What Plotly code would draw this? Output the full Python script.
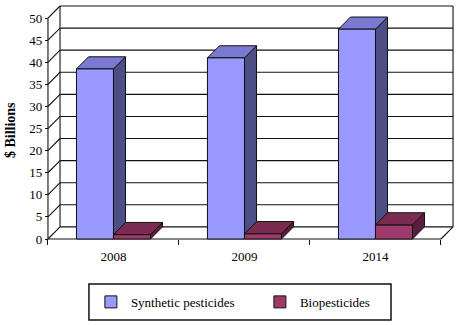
import plotly.graph_objects as go

# ---- data ----
years = ["2008", "2009", "2014"]
synthetic = [38.5, 41.0, 47.5]
biopesticides = [1.0, 1.2, 3.2]
series_names = ["Synthetic pesticides", "Biopesticides"]
y_ticks = [0, 5, 10, 15, 20, 25, 30, 35, 40, 45, 50]
y_title = "$ Billions"

# ---- geometry / style ----
DX = 0.092      # depth of the 3D box, in category units
DY = 2.75       # depth of the 3D box, in value units
W = 0.2825      # bar width (category units)
PADX = 0.015
PADY = 0.45
YMAX = y_ticks[-1]
NCAT = len(years)
FONT = "Liberation Serif"

front_cols = ["#9999FF", "#9E3A6C"]
top_cols = ["#7A7AD2", "#7B2A50"]
side_cols = ["#4E4E86", "#5A1E3C"]
edge = "#111111"

xs = list(range(NCAT))
fig = go.Figure()
values = [synthetic, biopesticides]
offsets = [-W, 0.0]
for k in range(2):
    fig.add_trace(go.Bar(
        x=xs, y=values[k], name=series_names[k], width=W, offset=offsets[k],
        marker=dict(color=front_cols[k], line=dict(color=edge, width=1)),
    ))

shapes = []


def line(x0, y0, x1, y1, layer="below", color=edge, width=1.1):
    shapes.append(dict(type="line", xref="x", yref="y", x0=x0, y0=y0, x1=x1, y1=y1,
                       layer=layer, line=dict(color=color, width=width)))


def poly(pts, fill, layer):
    path = "M " + " L ".join(f"{px},{py}" for px, py in pts) + " Z"
    shapes.append(dict(type="path", xref="x", yref="y", path=path, layer=layer,
                       fillcolor=fill, line=dict(color=edge, width=1)))


xl, xr = -0.5, NCAT - 0.5
# back wall gridlines and left-wall diagonals
for v in y_ticks:
    line(xl + DX, v + DY, xr + DX, v + DY)
    line(xl, v, xl + DX, v + DY)
# back wall verticals
line(xl + DX, DY, xl + DX, YMAX + DY)
line(xr + DX, DY, xr + DX, YMAX + DY)
# floor front edge, right diagonal, front value axis
line(xl, 0, xr, 0)
line(xr, 0, xr + DX, DY)
line(xl, 0, xl, YMAX)

# 3D faces of bars
for k in range(2):
    layer = "below" if k == 0 else "above"
    for i, v in enumerate(values[k]):
        x0 = i + offsets[k]
        x1 = x0 + W
        poly([(x1, 0), (x1, v), (x1 + DX, v + DY), (x1 + DX, DY)], side_cols[k], layer)
        poly([(x0, v), (x1, v), (x1 + DX, v + DY), (x0 + DX, v + DY)], top_cols[k], layer)

# legend frame
shapes.append(dict(type="rect", xref="paper", yref="paper", x0=0.105, x1=0.8435,
                   y0=-0.333, y1=-0.181, line=dict(color=edge, width=1.5)))

xrange_ = [xl - PADX, xr + DX + PADX]
yrange_ = [-PADY, YMAX + DY + PADY]

fig.update_layout(
    width=459, height=325,
    margin=dict(l=46, r=4, t=4, b=84, autoexpand=False),
    paper_bgcolor="white", plot_bgcolor="white",
    font=dict(family=FONT, size=13, color="black"),
    barmode="group",
    shapes=shapes,
    xaxis=dict(range=xrange_, tickvals=xs, ticktext=years, ticks="",
               showgrid=False, zeroline=False, showline=False,
               anchor="free", position=PADY / (yrange_[1] - yrange_[0]),
               ticklabelstandoff=8,
               minor=dict(tickvals=[xl + j for j in range(NCAT + 1)], ticks="outside",
                          ticklen=5, tickcolor=edge, tickwidth=1, showgrid=False),
               tickfont=dict(family=FONT, size=13, color="black")),
    yaxis=dict(range=yrange_, tickvals=y_ticks, ticks="outside", ticklen=3,
               tickcolor=edge, showgrid=False, zeroline=False, showline=False,
               anchor="free", position=PADX / (xrange_[1] - xrange_[0]),
               tickfont=dict(family=FONT, size=13, color="black")),
    legend=dict(orientation="h", xref="container", yref="container",
                x=0.198, xanchor="left", y=0.071, yanchor="middle",
                bgcolor="rgba(0,0,0,0)", borderwidth=0, entrywidth=124,
                font=dict(family=FONT, size=13, color="black")),
    annotations=[dict(text="<b>" + y_title + "</b>", xref="paper", yref="paper",
                      x=-0.088, y=0.468, xanchor="center", yanchor="middle",
                      textangle=-90, showarrow=False,
                      font=dict(family=FONT, size=14, color="black"))],
    showlegend=True,
)

fig.write_html("out.html", config={"displayModeBar": False},
               post_script="document.body.style.margin='0';")
